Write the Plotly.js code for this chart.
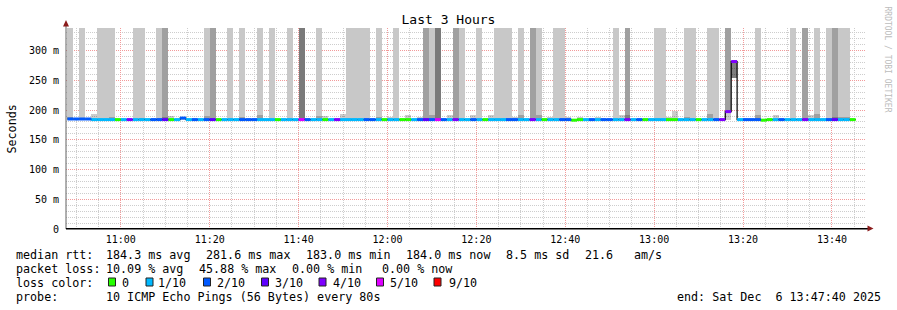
<!DOCTYPE html>
<html><head><meta charset="utf-8">
<script src="https://cdn.plot.ly/plotly-3.0.1.min.js"></script>
<style>html,body{margin:0;padding:0;background:#fff}#chart{width:897px;height:310px}</style>
</head><body><div id="chart"></div>
<script>
// ---------------- DATA ----------------
const chartTitle = 'Last 3 Hours';
const yAxisTitle = 'Seconds';
const rrdCredit = 'RRDTOOL / TOBI OETIKER';
const firstStepUTC = Date.UTC(2025, 11, 6, 10, 48, 0);
const stepSeconds = 80;
const rangeStartUTC = Date.UTC(2025, 11, 6, 10, 47, 40);
const rangeEndUTC = Date.UTC(2025, 11, 6, 13, 47, 40);

// median rtt per 80 s step (ms)
const medianRtt = [
 185,185,185,185,184,184,184,184,184,184,
 184,184,184,184,184,184,184,184,184,186.5,
 184,184,184,184,184,184,184,184,184,184,
 184,184,184,184,184,184,184,184,184,184,
 184,184,184,184,184,184,184,184,184,184,
 184,184,184,184,184,184,184,184,184,184,
 184,184,184,184,184,184,184,184,184,184,
 184,184,184,184,184,184,184,184,184,184,
 184,184,184,184,184,183,184,184,184,184,
 184,184,184,184,184,184,184,184,184,184,
 184,184,184,184,184,184,184,184,184,184,
 184,197.4,281.6,184,184,184,184,183,184,184,
 184,184,184,184,184,184,184,184,184,184,
 184,184,184,null,null];

// lost pings per step (index into loss colours)
const lossCount = [
 2,2,2,2,1,1,1,1,0,1,
 4,1,1,1,2,2,3,0,1,2,
 1,2,1,2,3,0,1,1,1,2,
 2,2,1,1,1,0,1,1,1,5,
 2,1,1,0,1,4,1,1,1,1,
 2,2,1,0,1,1,0,0,1,2,
 3,2,5,2,1,4,1,1,2,1,
 0,1,1,1,2,2,1,1,4,1,
 0,1,1,2,2,0,0,1,2,1,
 2,2,1,1,4,1,2,0,1,1,
 1,0,0,1,1,1,0,1,1,2,
 4,4,4,1,2,2,2,0,0,1,
 2,1,1,1,4,1,1,1,2,3,
 1,1,0,null,null];

// smoke of lost pings reaching the top: 0 none, 1 light, 2 medium, 3 dark
const lostSmokeLevel = [
 1,0,1,0,0,1,1,1,0,0,
 0,1,1,0,0,1,2,0,0,0,
 0,0,0,1,2,0,0,1,0,1,
 0,0,1,0,1,0,0,1,0,3,
 0,0,1,0,0,0,0,1,1,1,
 1,0,1,0,0,1,0,0,0,0,
 2,1,3,0,0,2,1,0,0,1,
 0,0,1,1,1,0,1,0,2,1,
 0,0,1,1,0,0,0,0,0,0,
 0,0,1,0,2,0,0,0,0,1,
 1,0,0,0,1,1,0,0,1,1,
 0,2,0,0,0,0,1,0,0,0,
 0,0,1,0,2,0,1,0,1,2,
 1,1,0,0,0];

// smoke (ping spread) per step, ms
const smokeMin = [
 183,183,183,183,183,183,183,183,183,183,
 183,183,183,183,183,183,183,183,183,183,
 183,183,183,183,183,183,183,183,183,183,
 183,183,183,183,183,183,183,183,183,183,
 183,183,183,183,183,183,183,183,183,183,
 183,183,183,183,183,183,183,183,183,183,
 183,183,183,183,183,183,183,183,183,183,
 183,183,183,183,183,183,183,183,183,183,
 183,183,183,183,183,183,183,183,183,183,
 183,183,183,183,183,183,183,183,183,183,
 183,183,183,183,183,183,183,183,183,183,
 183,183,254,183,183,183,183,183,183,183,
 183,183,183,183,183,183,183,183,183,183,
 183,183,183,null,null];
const smokeMax = [
 189,185,185,185,193,185,185,188,185,185,
 185,185,186,185,185,185,189,190,185,187,
 185,185,185,190.5,185,185,185,185,185,189,
 185,185,191,185,185,185,185,185,185,185,
 185,185,190,190,185,185,193,185,185,185,
 185,185,189,185,189,185,185,191,185,189,
 185,191,185,185,191,185,185,185,192,185,
 185,192,185,185,185,189,191,185,185,191,
 185,189,185,185,189,185,189,185,185,189,
 185,185,185,191,191,185,185,185,187,185,
 185,189,199,185,189,185,185,185,194,185,
 185,197,280,185,185,185,191,185,185,191,
 185,185,185,185,185,191,194,185,185,189,
 189,189,185,null,null];

const lossLabels = ['0','1/10','2/10','3/10','4/10','5/10','9/10'];
const lossColors = ['#26ff00','#00b8ff','#0059ff','#5e00ff','#7e00ff','#dd00ff','#ff0000'];
const yTickVals = [0,50,100,150,200,250,300];
const yTickText = ['0','50 m','100 m','150 m','200 m','250 m','300 m'];

const rttLabel = 'median rtt:';
const rttStats = ['184.3 ms avg','281.6 ms max','183.0 ms min','184.0 ms now','8.5 ms sd','21.6','am/s'];
const lossLabel = 'packet loss:';
const lossStats = ['10.09 % avg','45.88 % max','0.00 % min','0.00 % now'];
const lossColorLabel = 'loss color:';
const probeLabel = 'probe:';
const probeText = '10 ICMP Echo Pings (56 Bytes) every 80s';
const endText = 'end: Sat Dec  6 13:47:40 2025';

// ---------------- LAYOUT HELPERS ----------------
const FONT = 'DejaVu Sans Mono, monospace';
const Y_TOP = 338;
const P = {l:66, r:866, t:28, b:229, W:897, H:310};
const xp = px => (px - P.l) / (P.r - P.l);
const yp = py => (P.b - py) / (P.b - P.t);
const stepMs = stepSeconds * 1000;
const stepStart = medianRtt.map((_, k) => firstStepUTC + k * stepMs);
const stepMid = stepStart.map(t => t + stepMs / 2);

const shadeColors = [null, '#c8c8c8', '#a0a0a0', '#7a7a7a'];

const traces = [];
// smoke of lost pings (to top of graph)
traces.push({
  type: 'bar', x: stepMid, width: stepMs,
  base: medianRtt,
  y: medianRtt.map((m, k) => (m === null || !lostSmokeLevel[k]) ? null : Y_TOP - m),
  marker: {color: lostSmokeLevel.map(l => shadeColors[l] || '#fff'), line: {width: 0}},
  hoverinfo: 'skip', showlegend: false
});
// ping spread smoke
traces.push({
  type: 'bar', x: stepMid, width: stepMs,
  base: smokeMin,
  y: smokeMax.map((v, k) => v === null ? null : v - smokeMin[k]),
  marker: {color: smokeMax.map((v, k) => (v !== null && v - smokeMin[k] > 20) ? 'rgba(0,0,0,0.5)' : 'rgba(0,0,0,0.2)'), line: {width: 0}},
  hoverinfo: 'skip', showlegend: false
});
// black median step line
{
  const xs = [], ys = [];
  medianRtt.forEach((m, k) => { xs.push(stepStart[k]); ys.push(m); });
  const lastK = medianRtt.reduce((a, m, k) => m !== null ? k : a, 0);
  xs.splice(lastK + 1, 0, stepStart[lastK] + stepMs);
  ys.splice(lastK + 1, 0, medianRtt[lastK]);
  traces.push({type: 'scatter', mode: 'lines', x: xs, y: ys, line: {color: '#000', width: 1.2, shape: 'hv'},
    hoverinfo: 'skip', showlegend: false});
}
// median coloured by loss
lossColors.forEach((c, li) => {
  const xs = [], ys = [];
  medianRtt.forEach((m, k) => {
    if (m === null || lossCount[k] !== li) return;
    xs.push(stepStart[k], stepStart[k] + stepMs, null);
    ys.push(m, m, null);
  });
  if (xs.length) traces.push({type: 'scatter', mode: 'lines', x: xs, y: ys,
    line: {color: c, width: 3}, connectgaps: false, hoverinfo: 'skip', showlegend: false});
});

// ---------------- ANNOTATIONS / SHAPES ----------------
const ann = [];
const txt = (text, px, py, opts = {}) => ann.push(Object.assign({
  text, x: xp(px), y: yp(py), xref: 'paper', yref: 'paper', showarrow: false,
  xanchor: 'left', yanchor: 'middle', borderpad: 0, borderwidth: 0,
  font: {family: FONT, size: 11.7, color: '#000'}
}, opts));

txt(yAxisTitle, 11, 128.5, {xanchor: 'center', textangle: -90});
txt(rrdCredit, 886.5, 59, {xanchor: 'center', textangle: 90, font: {family: FONT, size: 8, color: '#bcbcbc'}});

txt(rttLabel, 15.5, 254.5);
const rttX = [105.5, 205.8, 305.6, 405.5, 506.3, 585, 634];
rttStats.forEach((s, i) => txt(s, rttX[i], 254.5));
txt(lossLabel, 15.5, 268.5);
const lossX = [105.5, 199.3, 292.2, 382.3];
lossStats.forEach((s, i) => txt(s, lossX[i], 268.5));
txt(lossColorLabel, 15.5, 282.5);
const boxX = [108.5, 146, 203.5, 261.5, 319, 376.5, 434];
const labX = [121.8, 158.3, 216.8, 275, 332.5, 390, 449];
const shapes = [];
lossLabels.forEach((l, i) => {
  txt(l, labX[i], 282.5);
  shapes.push({type: 'rect', xref: 'paper', yref: 'paper', x0: xp(boxX[i]), x1: xp(boxX[i] + 7),
    y0: yp(286), y1: yp(278), fillcolor: lossColors[i], line: {color: '#222', width: 1}});
});
txt(probeLabel, 15.5, 296.5);
txt(probeText, 105.5, 296.5);
txt(endText, 880.5, 296.5, {xanchor: 'right'});

// axis lines and arrows
shapes.push({type: 'line', xref: 'paper', yref: 'paper', x0: 0, x1: 0, y0: 0, y1: yp(22), line: {color: '#606060', width: 1}});
shapes.push({type: 'line', xref: 'paper', yref: 'paper', x0: 0, x1: xp(868), y0: yp(228.7), y1: yp(228.7), line: {color: '#000', width: 1.5}});
const tri = pts => 'M' + pts.map(p => xp(p[0]) + ',' + yp(p[1])).join(' L') + ' Z';
shapes.push({type: 'path', xref: 'paper', yref: 'paper', path: tri([[63, 26.5], [69, 26.5], [66, 20]]), fillcolor: '#8b1c1c', line: {width: 0}});
shapes.push({type: 'path', xref: 'paper', yref: 'paper', path: tri([[867.5, 225.5], [867.5, 231.5], [873.5, 228.5]]), fillcolor: '#8b1c1c', line: {width: 0}});

const layout = {
  width: P.W, height: P.H,
  margin: {l: P.l, r: P.W - P.r, t: P.t, b: P.H - P.b, pad: 0},
  paper_bgcolor: '#fff', plot_bgcolor: '#fff',
  font: {family: FONT, color: '#000'},
  barmode: 'overlay', bargap: 0,
  showlegend: false,
  title: {text: chartTitle, x: 0.5, xref: 'container', xanchor: 'center', y: 1 - 19 / P.H, yref: 'container', yanchor: 'middle',
    font: {family: FONT, size: 13, color: '#000'}},
  xaxis: {
    type: 'date', range: [rangeStartUTC, rangeEndUTC], fixedrange: true,
    tick0: Date.UTC(2025, 11, 6, 11, 0, 0), dtick: 20 * 60 * 1000, tickformat: '%H:%M',
    showgrid: true, gridcolor: '#f29a9a', griddash: '1px,1px', gridwidth: 1,
    minor: {dtick: 5 * 60 * 1000, tick0: Date.UTC(2025, 11, 6, 11, 0, 0), showgrid: true, gridcolor: '#cdcdcd', griddash: '1px,1px', gridwidth: 1},
    zeroline: false, showline: false, ticks: '', ticklabelstandoff: 3,
    tickfont: {family: FONT, size: 10, color: '#000'}
  },
  yaxis: {
    range: [0, Y_TOP], fixedrange: true,
    tickvals: yTickVals, ticktext: yTickText,
    showgrid: true, gridcolor: '#f29a9a', griddash: '1px,1px', gridwidth: 1,
    minor: {dtick: 10, tick0: 0, showgrid: true, gridcolor: '#cdcdcd', griddash: '1px,1px', gridwidth: 1},
    zeroline: false, showline: false, ticks: '', ticklabelstandoff: 6,
    tickfont: {family: FONT, size: 10, color: '#000'}
  },
  annotations: ann,
  shapes: shapes
};

Plotly.newPlot('chart', traces, layout, {displayModeBar: false, staticPlot: true});
</script>
</body></html>
